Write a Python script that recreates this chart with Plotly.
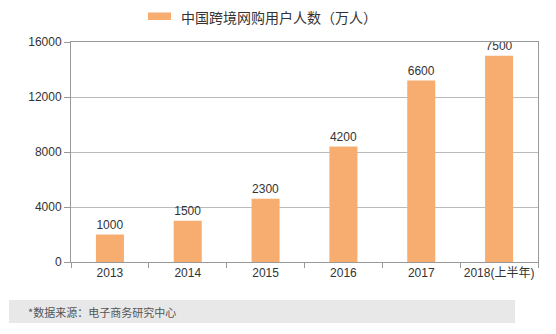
import plotly.graph_objects as go

# 中国跨境网购用户人数（万人）
years = ["2013", "2014", "2015", "2016", "2017", "2018(上半年)"]
users = [1000, 1500, 2300, 4200, 6600, 7500]

# y-axis tick positions and the text printed at each
y_tickvals = [0, 2000, 4000, 6000, 8000]
y_ticktext = ["0", "4000", "8000", "12000", "16000"]

series_name = "中国跨境网购用户人数（万人）"
source_note = "*数据来源：电子商务研究中心"

bar_color = "#F8AD70"
text_color = "#333333"
font_family = "Liberation Sans, Noto Sans CJK SC, sans-serif"

fig = go.Figure()
fig.add_trace(go.Bar(
    x=years,
    y=users,
    name=series_name,
    marker=dict(color=bar_color, line=dict(width=0)),
    text=[str(v) for v in users],
    textposition="outside",
    textfont=dict(size=12, color=text_color, family=font_family),
    cliponaxis=False,
    showlegend=False,
))

L, R, T, B = 71, 18, 42, 72
W, H = 556, 334
pw, ph = W - L - R, H - T - B

def px_x(p):
    return (p - L) / pw

def px_y(p):
    return (H - B - p) / ph

shapes = [
    # legend swatch
    dict(type="rect", xref="paper", yref="paper",
         x0=px_x(148), x1=px_x(171), y0=px_y(20), y1=px_y(12.5),
         fillcolor=bar_color, line=dict(width=0)),
    # source band
    dict(type="rect", xref="paper", yref="paper",
         x0=px_x(9), x1=px_x(515), y0=px_y(323), y1=px_y(300),
         fillcolor="#E8E8E8", line=dict(width=0), layer="below"),
]

annotations = [
    dict(text=series_name, xref="paper", yref="paper",
         x=px_x(179), y=px_y(17), xanchor="left", yanchor="middle",
         showarrow=False,
         font=dict(size=14, color=text_color, family="Noto Sans CJK SC, sans-serif")),
    dict(text=source_note, xref="paper", yref="paper",
         x=px_x(26), y=px_y(311.5), xanchor="left", yanchor="middle",
         showarrow=False,
         font=dict(size=11, color="#555555", family="Noto Sans CJK SC, sans-serif")),
]

fig.update_layout(
    width=W, height=H,
    margin=dict(l=L, r=R, t=T, b=B, pad=0),
    paper_bgcolor="white",
    plot_bgcolor="white",
    bargap=0.64,
    shapes=shapes,
    annotations=annotations,
    font=dict(family=font_family, size=12, color=text_color),
    xaxis=dict(
        type="category",
        showline=True, linecolor="#999999", linewidth=1, mirror=True,
        ticks="outside", tickson="boundaries", ticklen=5, tickcolor="#999999",
        tickangle=0,
        tickfont=dict(size=12, color=text_color, family=font_family),
        showgrid=False,
    ),
    yaxis=dict(
        range=[0, 8000],
        tickvals=y_tickvals, ticktext=y_ticktext,
        showline=True, linecolor="#999999", linewidth=1, mirror=True,
        ticks="outside", ticklen=6, tickcolor="#999999",
        showgrid=True, gridcolor="#BBBBBB", gridwidth=1,
        tickfont=dict(size=12, color=text_color, family=font_family),
        zeroline=False,
    ),
)

fig.write_html("out.html")
